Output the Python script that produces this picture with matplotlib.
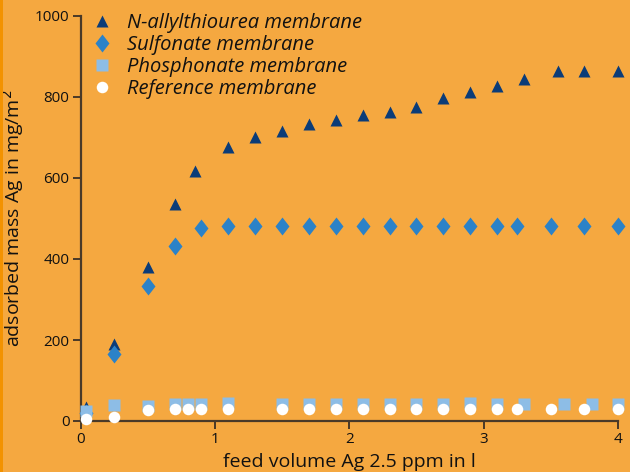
import matplotlib
matplotlib.use("Agg")
import matplotlib.pyplot as plt
from matplotlib.patches import Rectangle
from matplotlib.markers import MarkerStyle
from matplotlib.transforms import Affine2D

plt.rcParams['font.family'] = ['Open Sans', 'DejaVu Sans']

# Feed volume (l) and adsorbed silver (mg/m^2) per membrane type
x_thiourea = [0.04, 0.25, 0.5, 0.7, 0.85, 1.1, 1.3, 1.5, 1.7, 1.9, 2.1, 2.3, 2.5, 2.7, 2.9, 3.1, 3.3, 3.55, 3.75, 4.0]
y_thiourea = [35, 189, 380, 537, 618, 676, 702, 717, 734, 743, 755, 763, 776, 798, 813, 826, 845, 865, 865, 865]

x_sulfonate = [0.04, 0.25, 0.5, 0.7, 0.9, 1.1, 1.3, 1.5, 1.7, 1.9, 2.1, 2.3, 2.5, 2.7, 2.9, 3.1, 3.25, 3.5, 3.75, 4.0]
y_sulfonate = [20, 165, 333, 433, 477, 481, 481, 481, 481, 481, 482, 481, 481, 481, 482, 482, 482, 482, 481, 481]

x_phosphonate = [0.04, 0.25, 0.5, 0.7, 0.8, 0.9, 1.1, 1.5, 1.7, 1.9, 2.1, 2.3, 2.5, 2.7, 2.9, 3.1, 3.3, 3.6, 3.81, 4.0]
y_phosphonate = [25, 40, 38, 41, 41, 41, 45, 41, 41, 41, 41, 41, 41, 41, 45, 41, 42, 42, 42, 41]

x_reference = [0.04, 0.25, 0.5, 0.7, 0.8, 0.9, 1.1, 1.5, 1.7, 1.9, 2.1, 2.3, 2.5, 2.7, 2.9, 3.1, 3.25, 3.5, 3.75, 4.0]
y_reference = [4, 11, 28, 29, 30, 30, 29, 30, 30, 30, 30, 30, 30, 30, 30, 30, 30, 30, 30, 30]

labels = ["N-allylthiourea membrane", "Sulfonate membrane",
          "Phosphonate membrane", "Reference membrane"]

x_ticks = [0, 1, 2, 3, 4]
y_ticks = [0, 200, 400, 600, 800, 1000]

bg = "#F5A840"
ink = "#4A3A28"
text_col = "#111111"

fig = plt.figure(figsize=(6.3, 4.72), dpi=100, facecolor=bg)
fig.patches.append(Rectangle((0, 0), 2.5 / 630, 1, transform=fig.transFigure,
                             facecolor="#F39200", edgecolor="none", zorder=0))
ax = fig.add_axes([80.5 / 630, 51 / 472, 537.5 / 630, 405 / 472])
ax.set_facecolor(bg)

# tall, narrow diamond
diamond = MarkerStyle("D", transform=Affine2D().scale(0.75, 1.0))

ax.plot(x_thiourea, y_thiourea, ls="none", marker="^", ms=8.5, color="#0B3C78",
        mec="none", clip_on=False, label=labels[0], zorder=3)
ax.plot(x_sulfonate, y_sulfonate, ls="none", marker=diamond, ms=9.5, color="#2B82C8",
        mec="none", clip_on=False, label=labels[1], zorder=4)
ax.plot(x_phosphonate, y_phosphonate, ls="none", marker="s", ms=8.0, color="#8DBDE6",
        mec="none", clip_on=False, label=labels[2], zorder=5)
ax.plot(x_reference, y_reference, ls="none", marker="o", ms=8.3, color="white",
        mec="none", clip_on=False, label=labels[3], zorder=6)

ax.set_xlim(0, 4)
ax.set_ylim(0, 1000)
ax.set_xticks(x_ticks)
ax.set_yticks(y_ticks)
for s in ["top", "right"]:
    ax.spines[s].set_visible(False)
for s in ["left", "bottom"]:
    ax.spines[s].set_color(ink)
    ax.spines[s].set_linewidth(1.6)
ax.tick_params(axis="both", direction="out", length=6, width=1.4, color=ink,
               labelsize=11, labelcolor=text_col, pad=2)

ax.set_xlabel("feed volume Ag 2.5 ppm in l", fontsize=14, color=text_col, labelpad=4)
ax.set_ylabel("adsorbed mass Ag in mg/m$^2$", fontsize=14, color=text_col, labelpad=6)

leg = ax.legend(loc="upper left", bbox_to_anchor=(78 / 630, 1.0),
                bbox_transform=fig.transFigure, frameon=False,
                prop={"style": "italic", "size": 14.5}, handletextpad=0.7,
                labelspacing=0.1, borderpad=0.15, handlelength=1.1)
for t in leg.get_texts():
    t.set_color(text_col)

fig.savefig("out.png", dpi=100, facecolor=bg)
